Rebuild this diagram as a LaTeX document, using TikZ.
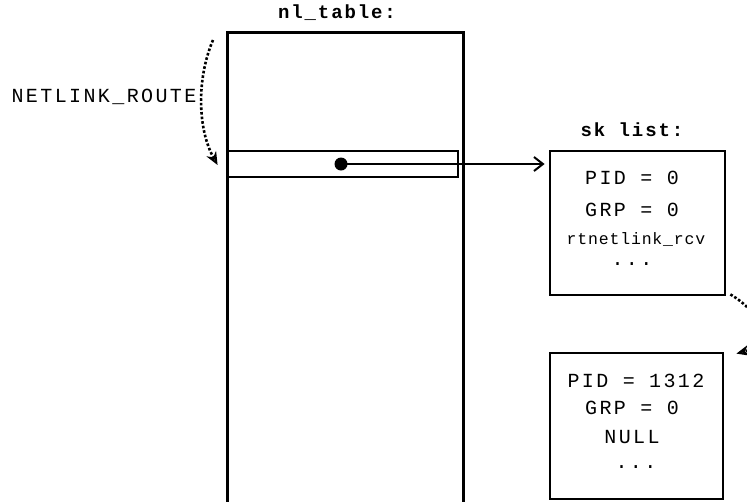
\documentclass[tikz,border=0pt]{standalone}
\usepackage{fontspec}
\setmonofont[LetterSpace=12]{Liberation Mono}
\newfontfamily\titlefont[LetterSpace=10]{Liberation Mono}
\usetikzlibrary{arrows.meta, positioning, calc}

\begin{document}
\begin{tikzpicture}[
      x=1pt, y=-1pt,
      box/.style={rectangle, draw=black, line width=2.8pt, inner sep=0pt, align=center},
      txt/.style={font=\fontsize{20}{27}\selectfont\ttfamily, align=center, inner sep=0pt},
      ttl/.style={font=\fontsize{19}{23}\selectfont\titlefont\bfseries, inner sep=0pt},
      arr/.style={-{Straight Barb[length=9pt, width=14pt]}, line width=2pt},
      dotarr/.style={-{Stealth[length=13pt, width=11pt, open, line width=2pt]}, line width=2.6pt, dotted}
    ]
      \useasboundingbox (0,0) rectangle (747,501);
      \clip (0,0) rectangle (747,501);

      \node[box, minimum width=236pt, minimum height=500pt, anchor=north west] (table) at (226,31) {};
      \node[ttl] (tabletitle) at (337,13) {nl\_table:};
      \node[box, minimum width=230pt, minimum height=26pt] (row) at (343,164) {};
      \node[circle, fill=black, minimum size=13pt, inner sep=0pt] (ptr) at (341,164) {};

      \node[txt] (route) at (104,97) {NETLINK\_ROUTE};
      \coordinate (routestart) at (213,40);

      \node[box, minimum width=175pt, minimum height=144pt] (sk1) at (637.5,223) {};
      \node[ttl] (sktitle) at (632,130) {sk list:};
      \node[txt] (pid1) at (632,178) {PID = 0};
      \node[txt] (grp1) at (632,210) {GRP = 0};
      \node[txt, font=\fontsize{16.5}{20}\selectfont\ttfamily\addfontfeature{LetterSpace=5}] (rcv1) at (636,239) {rtnetlink\_rcv};
      \node[txt] (dots1) at (632,264) {...};

      \node[box, minimum width=173pt, minimum height=146pt] (sk2) at (636.5,426) {};
      \node[txt] (pid2) at (636,381) {PID = 1312};
      \node[txt] (grp2) at (632,408) {GRP = 0};
      \node[txt] (null2) at (632,437) {NULL};
      \node[txt] (dots2) at (636,467) {...};

      \draw[arr] (ptr.center) -- ([xshift=-4pt]sk1.west |- ptr);
      \draw[dotarr] (routestart) .. controls (196,80) and (198,130) .. ([xshift=-9pt, yshift=-1pt]row.west);
      \draw[dotarr] ([xshift=4pt, yshift=2pt]sk1.south east) .. controls (765,315) and (770,345) .. ([xshift=12pt, yshift=-2pt]sk2.north east);
    \end{tikzpicture}
\end{document}
